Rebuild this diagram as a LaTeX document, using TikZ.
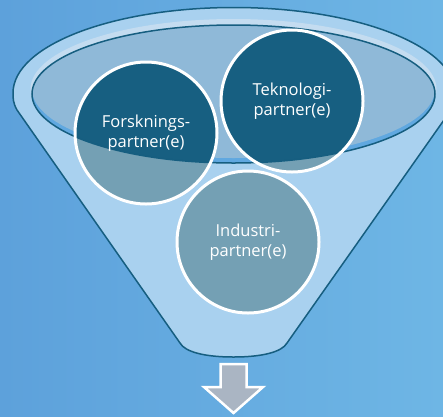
\documentclass[tikz,border=0pt]{standalone}
\usepackage{fontspec}
\setmainfont{Open Sans}
\usetikzlibrary{calc}
\definecolor{bgleft}{RGB}{93,161,219}
\definecolor{bgright}{RGB}{110,182,229}
\definecolor{funnel}{RGB}{169,209,239}
\definecolor{funnelline}{RGB}{22,94,128}
\definecolor{rimlight}{RGB}{196,220,240}
\definecolor{innerblue}{RGB}{96,168,224}
\definecolor{innergrey}{RGB}{143,185,216}
\definecolor{circdark}{RGB}{23,95,129}
\definecolor{circlight}{RGB}{116,160,180}
\definecolor{arrowgrey}{RGB}{170,181,195}

\tikzset{
  partner/.style={circle, minimum size=142pt, inner sep=0pt, align=center,
    draw=white, line width=3pt, text=white,
    font=\fontsize{16.5}{20.5}\selectfont},
  opening/.style={x radius=201.5, y radius=69},
}

\begin{document}
\begin{tikzpicture}[x=1pt,y=1pt]
  \useasboundingbox (0,0) rectangle (443,-416);
  \shade[left color=bgleft, right color=bgright] (0,0) rectangle (443,-416);

  % funnel body and rim
  \draw[funnelline, fill=funnel, line width=1.5pt, line join=round]
    (180,-343) -- (17,-110) .. controls (13,-103) and (13,-98) .. (13,-93)
    arc[start angle=180, end angle=0, x radius=221, y radius=85.5]
    .. controls (455,-98) and (455,-103) .. (451,-110) -- (287,-343)
    .. controls (282,-352) and (262,-357) .. (233.5,-357)
    .. controls (205,-357) and (185,-352) .. (180,-343) -- cycle;

  % opening
  \fill[rimlight] (233.5,-89) ellipse[x radius=203, y radius=70];
  \fill[innerblue] (233.5,-94) ellipse[opening];
  \begin{scope}
    \clip (233.5,-94) ellipse[opening];
    \fill[innergrey] (233.5,-89) ellipse[opening];
  \end{scope}

  % circles, dark where they sit in the opening
  \foreach \p in {(146,-133),(292,-101),(248,-242)}
    \fill[circlight] \p circle[radius=71];
  \begin{scope}
    \clip (233.5,-94) ellipse[opening];
    \foreach \p in {(146,-133),(292,-101),(248,-242)}
      \fill[circdark] \p circle[radius=71];
  \end{scope}
  \draw[funnelline, line width=1.5pt] (233.5,-94) ellipse[opening];

  \node[partner] (forsk) at (146,-133) {Forsknings-\\partner(e)};
  \node[partner] (tekno) at (292,-101) {Teknologi-\\partner(e)};
  \node[partner] (indus) at (248,-242) {Industri-\\partner(e)};

  % output arrow
  \draw[white, line width=2.5pt, fill=arrowgrey, line join=miter]
    (220.7,-364) -- (246.7,-364) -- (246.7,-387) -- (263,-387)
    -- (233.5,-413) -- (204,-387) -- (220.7,-387) -- cycle;
\end{tikzpicture}
\end{document}
